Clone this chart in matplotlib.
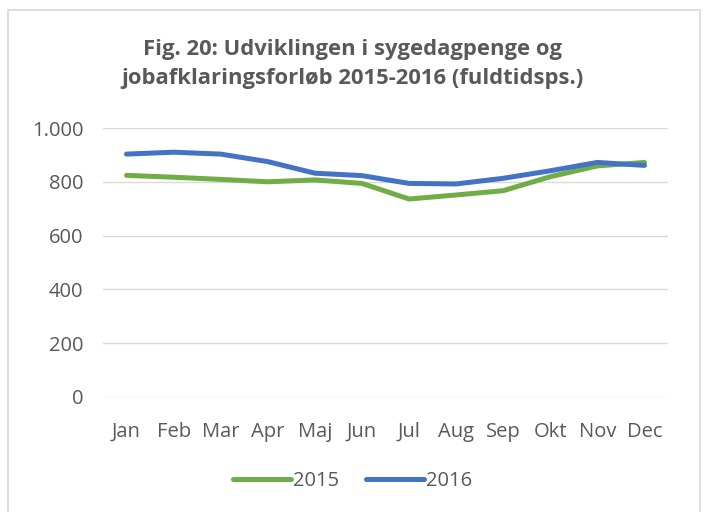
import matplotlib.pyplot as plt
from matplotlib.patches import Rectangle
from matplotlib.ticker import FuncFormatter

# Data
maaneder = ['Jan', 'Feb', 'Mar', 'Apr', 'Maj', 'Jun', 'Jul', 'Aug', 'Sep', 'Okt', 'Nov', 'Dec']
vaerdier_2015 = [824, 817, 809, 800, 807, 794, 736, 751, 767, 819, 859, 872]
vaerdier_2016 = [903, 910, 903, 875, 832, 823, 794, 792, 813, 841, 872, 861]

plt.rcParams['font.family'] = ['Open Sans', 'DejaVu Sans']
tekst = '#595959'

fig = plt.figure(figsize=(7.05, 5.12), dpi=100)
ax = fig.add_axes([103/705, 1 - 397/512, 565/705, 269/512])

x = range(len(maaneder))
ax.plot(x, vaerdier_2015, color='#70AD47', lw=3.6, solid_capstyle='round', label='2015')
ax.plot(x, vaerdier_2016, color='#4472C4', lw=3.6, solid_capstyle='round', label='2016')

ax.set_xlim(-0.5, len(maaneder) - 0.5)
ax.set_ylim(0, 1000)
ax.set_yticks(range(0, 1001, 200))
ax.yaxis.set_major_formatter(FuncFormatter(lambda v, p: f'{int(v):,}'.replace(',', '.')))
ax.set_xticks(list(x))
ax.set_xticklabels(maaneder)
ax.tick_params(length=0, labelsize=14.5, colors=tekst)
ax.tick_params(axis='x', pad=18)
ax.tick_params(axis='y', pad=14)
ax.grid(axis='y', color='#D9D9D9', lw=1)
ax.set_axisbelow(True)
for s in ax.spines.values():
    s.set_visible(False)

fig.text(0.5, 1 - 64/512, 'Fig. 20: Udviklingen i sygedagpenge og\njobafklaringsforløb 2015-2016 (fuldtidsps.)',
         ha='center', va='center', fontsize=15.8, fontweight='bold', color=tekst, linespacing=1.55)

leg = fig.legend(loc='center', bbox_to_anchor=(0.5, 1 - 481/512), ncol=2, frameon=False,
                 fontsize=14.5, handlelength=2.9, columnspacing=1.3, handletextpad=0.1)
for t in leg.get_texts():
    t.set_color(tekst)

# ramme om diagrammet
fig.patches.append(Rectangle((8/705, -0.01), 692/705, 1 - 10/512 + 0.01, transform=fig.transFigure,
                             fill=False, edgecolor='#D9D9D9', lw=1.2))

fig.savefig('out.png', dpi=100)
